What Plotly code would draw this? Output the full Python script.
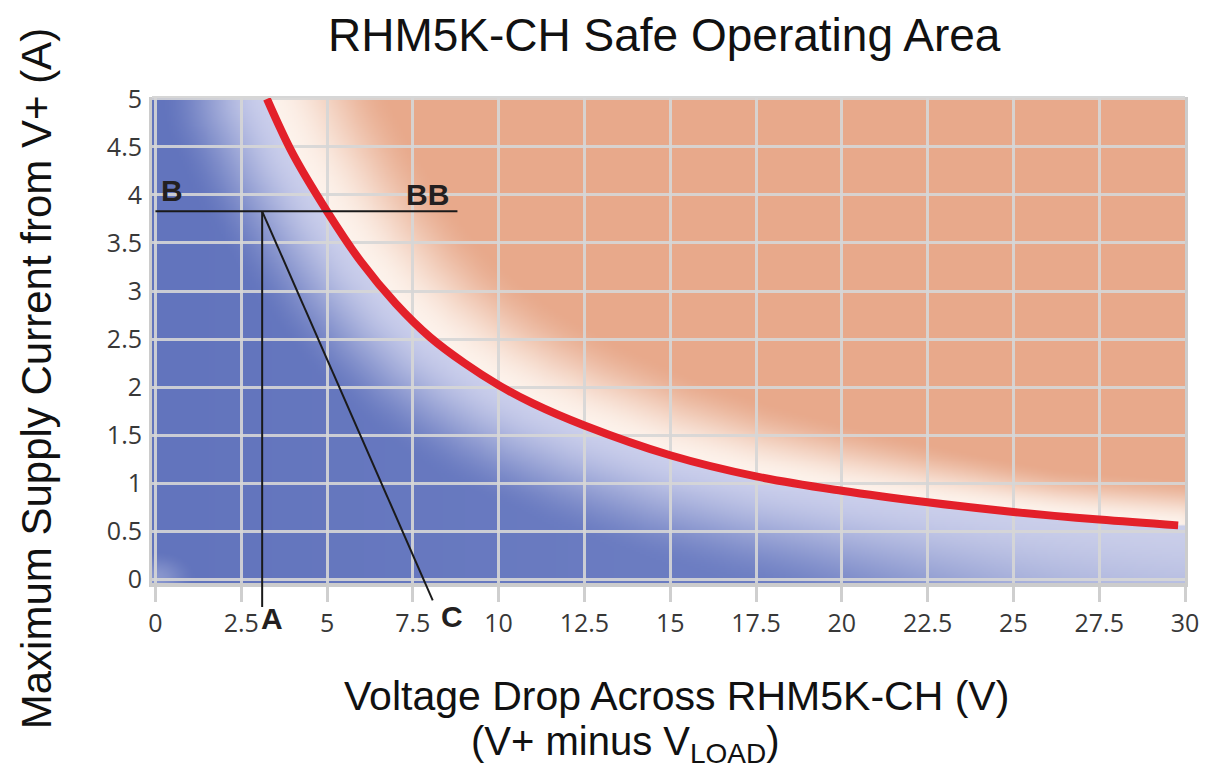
import numpy as np
import zlib
import struct
import base64
import plotly.graph_objects as go

# ---------------- data ----------------
voltage = [3.25, 4, 5, 6, 7, 8, 9, 10, 11, 12.5, 15, 17.5, 20, 22.5, 25, 27.5, 29.8]
current = [5.0, 4.43, 3.83, 3.3, 2.87, 2.52, 2.25, 2.02, 1.83, 1.6, 1.29, 1.07, 0.92, 0.8, 0.7, 0.62, 0.56]

x_ticks = [0, 2.5, 5, 7.5, 10, 12.5, 15, 17.5, 20, 22.5, 25, 27.5, 30]
y_ticks = [0, 0.5, 1, 1.5, 2, 2.5, 3, 3.5, 4, 4.5, 5]

# example operating point annotation (B-BB line, A and C)
op_voltage = 3.11
op_current = 3.83
bb_end_voltage = 8.8
a_bottom = [3.11, -0.29]
c_bottom = [8.08, -0.22]
label_text = ["B", "BB", "A", "C"]
label_v = [0.47, 7.94, 3.4, 8.63]
label_i = [4.05, 4.0, -0.41, -0.39]

# ---------------- layout geometry ----------------
OFF = 8                      # page body margin of the html page
W, H = 1211 - OFF, 769 - OFF
L, T, PW, PH = 152 - OFF, 97 - OFF, 1035, 486
XR = [-0.1, 30.0]
YR = [-0.04, 5.02]


def to_paper(v, i):
    return ((v - XR[0]) / (XR[1] - XR[0]), (i - YR[0]) / (YR[1] - YR[0]))


def px_paper(px, py):
    """reference-screenshot pixel -> paper coords"""
    return ((px - OFF - L) / PW, (T + PH - (py - OFF)) / PH)


# ---------------- background gradient image ----------------
def make_background(nw=520, nh=244):
    xs = np.linspace(XR[0], XR[1], nw)
    ys = np.linspace(YR[1], YR[0], nh)
    V, I = np.meshgrid(xs, ys)
    cv = np.linspace(voltage[0], voltage[-1], 400)
    ci = np.interp(cv, voltage, current)
    sx, sy = PW / (XR[1] - XR[0]), PH / (YR[1] - YR[0])
    cpx, cpy = cv * sx, ci * sy
    PX, PY = V * sx, I * sy
    d = np.full(V.shape, 1e9)
    for k in range(len(cv)):
        d = np.minimum(d, np.hypot(PX - cpx[k], PY - cpy[k]))
    f = np.interp(V, voltage, current, left=99, right=current[-1])
    above = I > f

    def sm(t):
        t = np.clip(t, 0, 1)
        return t * t * (3 - 2 * t)

    # below (safe) region
    near_b = np.array([203, 207, 236.0])
    deep = np.array([98, 116, 189.0])
    mid = np.array([118, 134, 199.0])
    xfrac = np.clip(V / 30, 0, 1)[..., None]
    blue = deep * (1 - xfrac) + mid * xfrac
    tb = sm(d / 110.0)[..., None]
    colb = near_b * (1 - tb) + blue * tb
    pale = (0.6 * sm((V - 17) / 13.0))[..., None]
    colb = colb * (1 - pale) + np.array([203, 207, 233.0]) * pale
    corner = (0.3 * sm(1 - np.hypot(V / 1.2, I / 0.3)))[..., None]
    colb = colb * (1 - corner) + np.array([232, 234, 247.0]) * corner
    # above (unsafe) region
    near_a = np.array([253, 243, 236.0])
    peach = np.array([232, 169, 139.0])
    la = np.clip(140 - 3.5 * V, 48, 140)
    ta = sm(d / la)[..., None]
    cola = near_a * (1 - ta) + peach * ta
    rgb = np.where(above[..., None], cola, colb)
    return np.clip(rgb, 0, 255).astype(np.uint8)


def png_data_uri(arr):
    h, w, _ = arr.shape
    raw = b"".join(b"\x00" + arr[r].tobytes() for r in range(h))

    def chunk(tag, data):
        c = struct.pack(">I", len(data)) + tag + data
        return c + struct.pack(">I", zlib.crc32(tag + data) & 0xFFFFFFFF)

    png = b"\x89PNG\r\n\x1a\n"
    png += chunk(b"IHDR", struct.pack(">IIBBBBB", w, h, 8, 2, 0, 0, 0))
    png += chunk(b"IDAT", zlib.compress(raw, 9))
    png += chunk(b"IEND", b"")
    return "data:image/png;base64," + base64.b64encode(png).decode()


bg_uri = png_data_uri(make_background())

# ---------------- figure ----------------
fig = go.Figure()

fig.add_trace(go.Scatter(
    x=voltage, y=current, mode="lines",
    line=dict(color="#e3202a", width=8, shape="spline", smoothing=1.0),
    hoverinfo="skip", showlegend=False,
))

fig.add_layout_image(dict(
    source=bg_uri, xref="x", yref="y", x=XR[0], y=YR[1],
    sizex=XR[1] - XR[0], sizey=YR[1] - YR[0],
    sizing="stretch", layer="below", xanchor="left", yanchor="top",
))

tick_font = dict(family="Open Sans, Liberation Sans, sans-serif", size=25, color="#383838")
grid_col = "rgba(214,214,214,0.9)"

fig.update_xaxes(
    range=XR, tickvals=x_ticks, ticktext=[f"{t:g}" for t in x_ticks],
    showgrid=True, gridcolor=grid_col, gridwidth=2.5,
    showline=True, linecolor="#cccccc", linewidth=4,
    ticks="outside", ticklen=15, tickwidth=2.5, tickcolor="#cfcfcf",
    ticklabelstandoff=0, tickfont=tick_font, zeroline=False,
    fixedrange=True,
)
fig.update_yaxes(
    range=YR, tickvals=y_ticks, ticktext=[f"{t:g}" for t in y_ticks],
    showgrid=True, gridcolor=grid_col, gridwidth=2.5,
    showline=True, linecolor="#cccccc", linewidth=3, mirror=True,
    ticks="outside", ticklen=2, tickcolor="rgba(0,0,0,0)",
    ticklabelstandoff=0, tickfont=tick_font, zeroline=False,
    fixedrange=True,
)

# thin top border
fig.add_shape(type="line", xref="paper", yref="paper", x0=0, x1=1, y0=1, y1=1,
              line=dict(color="#d6d6d6", width=2), layer="above")

# annotation lines (paper-referenced so they can leave the plot area)
p0 = to_paper(0, op_current)
p1 = to_paper(bb_end_voltage, op_current)
pv = to_paper(op_voltage, op_current)
pa = to_paper(*a_bottom)
pc = to_paper(*c_bottom)
line_style = dict(color="#1a1a1a", width=2)
for (x0, y0), (x1, y1) in [(p0, p1), (pv, pa), (pv, pc)]:
    fig.add_shape(type="line", xref="paper", yref="paper",
                  x0=x0, y0=y0, x1=x1, y1=y1, line=line_style, layer="above")

label_font = dict(family="Liberation Sans, Arial, sans-serif", size=30, color="#231f20")
for txt, v, i in zip(label_text, label_v, label_i):
    px, py = to_paper(v, i)
    fig.add_annotation(text=f"<b>{txt}</b>", xref="paper", yref="paper", x=px, y=py,
                       showarrow=False, font=label_font, xanchor="center", yanchor="middle")

title_font = dict(family="Liberation Sans, Arial, sans-serif", color="#111111")
tx, ty = px_paper(665, 35)
fig.add_annotation(text="RHM5K-CH Safe Operating Area", xref="paper", yref="paper",
                   x=tx, y=ty, showarrow=False, font=dict(title_font, size=46),
                   xanchor="center", yanchor="middle")
yx, yy = px_paper(36, 379)
fig.add_annotation(text="Maximum Supply Current from V+ (A)", xref="paper", yref="paper",
                   x=yx, y=yy, showarrow=False, textangle=-90,
                   font=dict(title_font, size=42), xanchor="center", yanchor="middle")
x1x, x1y = px_paper(678, 696)
fig.add_annotation(text="Voltage Drop Across RHM5K-CH (V)", xref="paper", yref="paper",
                   x=x1x, y=x1y, showarrow=False, font=dict(title_font, size=41),
                   xanchor="center", yanchor="middle")
x2x, x2y = px_paper(626, 744)
fig.add_annotation(text="(V+ minus V<sub>LOAD</sub>)", xref="paper", yref="paper",
                   x=x2x, y=x2y, showarrow=False, font=dict(title_font, size=40),
                   xanchor="center", yanchor="middle")

fig.update_layout(
    width=W, height=H,
    margin=dict(l=L, r=W - L - PW, t=T, b=H - T - PH),
    paper_bgcolor="white", plot_bgcolor="white",
    showlegend=False,
)

fig.write_html("out.html")
